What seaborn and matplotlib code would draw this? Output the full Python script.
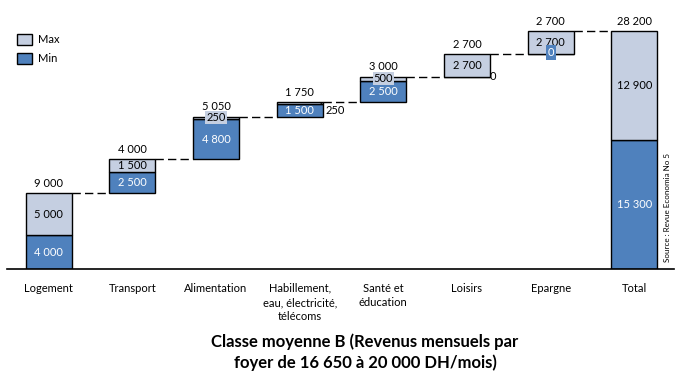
import numpy as np
import pandas as pd
import matplotlib
matplotlib.use("Agg")
import matplotlib.pyplot as plt
from matplotlib.patches import Patch
import seaborn as sns

# data
categories = ["Logement", "Transport", "Alimentation",
              "Habillement,\neau, électricité,\ntélécoms", "Santé et\néducation",
              "Loisirs", "Epargne", "Total"]
min_vals = [4000, 2500, 4800, 1500, 2500, 0, 0, 15300]
max_extra = [5000, 1500, 250, 250, 500, 2700, 2700, 12900]
totals = [9000, 4000, 5050, 1750, 3000, 2700, 2700, 28200]

light = "#C5CFE1"
blue = "#4F81BD"

sns.set_theme(style="white")
plt.rcParams["font.family"] = ["Lato", "DejaVu Sans"]
plt.rcParams["text.color"] = "black"
plt.rcParams["xtick.color"] = "black"

# cumulative bottoms of the waterfall, total bar starts at 0
bottoms = list(np.concatenate([[0], np.cumsum(totals[:-2])])) + [0]
bottoms = np.array(bottoms, dtype=float)
df = pd.DataFrame({"cat": categories, "min": min_vals, "extra": max_extra,
                   "total": totals, "bottom": bottoms})

fig = plt.figure(figsize=(6.88, 3.81), dpi=100)
ax = fig.add_axes([7 / 688, 1 - 269 / 381, 667 / 688, 249 / 381])

w = 0.55
sns.barplot(data=df, x="cat", y="min", bottom=df["bottom"], color=blue,
            saturation=1, width=w, edgecolor="black", linewidth=1, ax=ax)
sns.barplot(data=df, x="cat", y="extra", bottom=df["bottom"] + df["min"], color=light,
            saturation=1, width=w, edgecolor="black", linewidth=1, ax=ax)

fmt = lambda v: f"{v:,}".replace(",", " ")
fs = 8
n = len(categories)
for i in range(n):
    b = df["bottom"][i]
    mn = min_vals[i]
    ex = max_extra[i]
    top = b + mn + ex
    # total on top
    ax.annotate(fmt(totals[i]), (i, top), xytext=(0, 3), textcoords="offset points",
                ha="center", va="bottom", fontsize=fs)
    # min labels
    if mn > 0:
        ax.text(i, b + mn / 2, fmt(mn), ha="center", va="center", fontsize=fs, color="white")
    # max labels
    if ex >= 1000:
        ax.text(i, b + mn + ex / 2, fmt(ex), ha="center", va="center", fontsize=fs)

# special small labels
ax.text(2, bottoms[2] + 4800 + 125, "250", ha="center", va="center", fontsize=fs,
        bbox=dict(boxstyle="square,pad=0.1", fc=light, ec="none"))
ax.annotate("250", xy=(3 + w / 2 - 0.04, bottoms[3] + 1750 - 50),
            xytext=(3 + w / 2 + 0.03, bottoms[3] + 1750 - 1000),
            ha="left", va="center", fontsize=fs,
            arrowprops=dict(arrowstyle="-", color="black", lw=0.6, shrinkA=0, shrinkB=0))
ax.text(4, bottoms[4] + 2500 + 250, "500", ha="center", va="center", fontsize=fs,
        bbox=dict(boxstyle="square,pad=0.1", fc=light, ec="none"))
ax.text(5 + w / 2, bottoms[5], "0", ha="left", va="center", fontsize=fs)
ax.text(6, bottoms[6] + 150, "0", ha="center", va="center", fontsize=fs, color="white",
        bbox=dict(boxstyle="square,pad=0.15", fc=blue, ec="none"))

# dashed connectors
for i in range(n - 1):
    y = df["bottom"][i] + totals[i]
    ax.plot([i + w / 2, i + 1 - w / 2], [y, y], color="black", lw=1,
            dashes=(6, 3), zorder=0)

ax.set_xlim(-0.5, 7.475)
ax.set_ylim(0, 28200 * 249 / 238)
ax.set_xlabel("")
ax.set_ylabel("")
ax.set_yticks([])
ax.tick_params(axis="x", length=0, pad=10, labelsize=fs)
for lab in ax.get_xticklabels():
    lab.set_linespacing(1.35)
    lab.set_va("top")
sns.despine(ax=ax, left=True, top=True, right=True)
ax.spines["bottom"].set_color("black")
ax.spines["bottom"].set_linewidth(1.2)

handles = [Patch(facecolor=light, edgecolor="black", label="Max"),
           Patch(facecolor=blue, edgecolor="black", label="Min")]
fig.legend(handles=handles, loc="upper left", bbox_to_anchor=(17 / 688, 1 - 34 / 381),
           frameon=False, fontsize=fs, handlelength=1.35, handleheight=1.1,
           handletextpad=0.5, labelspacing=0.7, borderaxespad=0, borderpad=0)

fig.text(668 / 688, 1 - 208 / 381, "Source : Revue Economia No 5", rotation=90,
         ha="center", va="center", fontsize=5.8)
fig.text(365 / 688, 1 - 352 / 381,
         "Classe moyenne B (Revenus mensuels par\nfoyer de 16 650 à 20 000 DH/mois)",
         ha="center", va="center", fontsize=12, fontweight="bold", linespacing=1.3)

fig.savefig("out.png", dpi=100)
